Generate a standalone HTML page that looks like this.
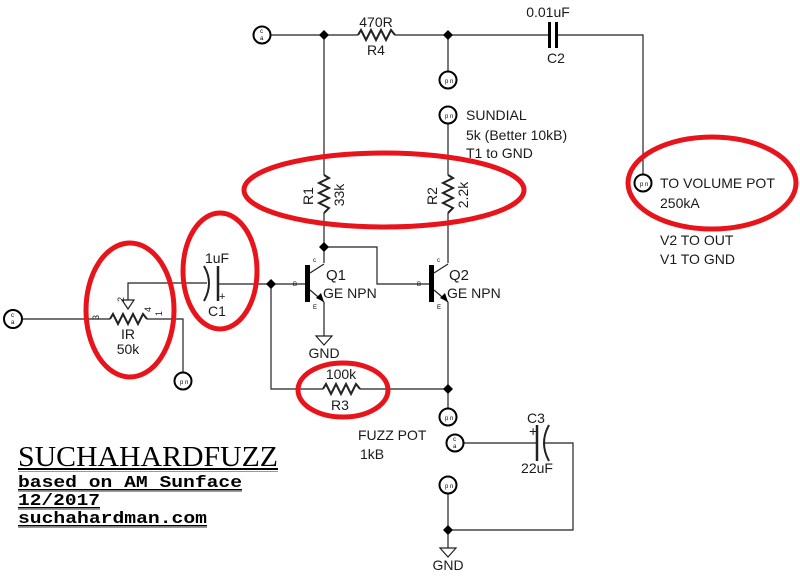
<!DOCTYPE html>
<html><head><meta charset="utf-8"><style>
html,body{margin:0;padding:0;background:#fff;}
svg{display:block;}
text{font-family:"Liberation Sans",sans-serif;font-size:14px;fill:#1a1a1a;}
.m{font-family:"Liberation Mono","DejaVu Sans Mono",monospace;fill:#000;}
.t{font-size:6px;fill:#000;}
</style></head><body>
<svg width="800" height="577" viewBox="0 0 800 577" xmlns="http://www.w3.org/2000/svg">
<g fill="none" stroke="#222" stroke-width="1.2">
<line x1="271" y1="35" x2="358" y2="35"/>
<line x1="395" y1="35" x2="549" y2="35"/>
<polyline points="556,35 643,35 643,174"/>
<polyline stroke-width="2" points="358,35 361,30 366,40 371,30 376,40 381,30 386,40 391,30 395,35"/>
<line x1="448" y1="35" x2="448" y2="71"/>
<line x1="448" y1="124" x2="448" y2="175"/>
<line x1="324" y1="35" x2="324" y2="175"/>
<polyline stroke-width="2" points="324,175 329,178 319,183 329,188 319,193 329,198 319,203 329,208 324,213"/>
<polyline stroke-width="2" points="448,175 453,178 443,183 453,188 443,193 453,198 443,203 453,208 448,213"/>
<line x1="324" y1="213" x2="324" y2="263"/>
<line x1="448" y1="213" x2="448" y2="263"/>
<polyline points="324,247 377,247 377,284 430,284"/>
<line x1="310" y1="273" x2="324" y2="264"/>
<line x1="310" y1="290" x2="324" y2="302"/>
<line x1="324" y1="302" x2="324" y2="336"/>
<line x1="434" y1="273" x2="448" y2="264"/>
<line x1="434" y1="290" x2="448" y2="302"/>
<line x1="448" y1="302" x2="448" y2="408"/>
<line x1="218" y1="284" x2="306" y2="284"/>
<polyline points="271,284 271,389 323,389"/>
<line x1="360" y1="389" x2="448" y2="389"/>
<polyline stroke-width="2" points="323,389 326,384 331,394 336,384 341,394 346,384 351,394 356,384 360,389"/>
<polygon points="316,336 332,336 324,345"/>
<line x1="23" y1="319" x2="110" y2="319"/>
<polyline stroke-width="2" points="110,319 113,314 118,324 123,314 128,324 133,314 138,324 143,314 147,319"/>
<polyline points="147,319 183,319 183,372"/>
<polyline points="128,300 128,283 207,283"/>
<polygon points="122,300 134,300 128,309"/>
<path d="M204,266 Q214,283 204,301" stroke-width="2"/>
<line x1="218" y1="266" x2="218" y2="301" stroke-width="2.5"/>
<line x1="463" y1="443" x2="537" y2="443"/>
<line x1="537" y1="425" x2="537" y2="461" stroke-width="2.5"/>
<path d="M549,425 Q539,443 549,461" stroke-width="2"/>
<polyline points="543,443 573,443 573,530 448,530"/>
<line x1="448" y1="494" x2="448" y2="548"/>
<polygon points="440,548 456,548 448,557"/>
<circle cx="262" cy="35" r="8.5" stroke="#000" stroke-width="2" fill="#fff"/>
<circle cx="13" cy="319" r="9" stroke="#000" stroke-width="2" fill="#fff"/>
<circle cx="455" cy="443" r="8.5" stroke="#000" stroke-width="2" fill="#fff"/>
<circle cx="448" cy="80" r="8.5" stroke="#000" stroke-width="2" fill="#fff"/>
<circle cx="448" cy="115" r="8.5" stroke="#000" stroke-width="2" fill="#fff"/>
<circle cx="643" cy="183" r="8.5" stroke="#000" stroke-width="2" fill="#fff"/>
<circle cx="183" cy="381" r="8.5" stroke="#000" stroke-width="2" fill="#fff"/>
<circle cx="448" cy="417" r="8.5" stroke="#000" stroke-width="2" fill="#fff"/>
<circle cx="448" cy="485" r="8.5" stroke="#000" stroke-width="2" fill="#fff"/>
</g>
<g fill="#000">
<rect x="305" y="265" width="5" height="37"/>
<rect x="429" y="265" width="5" height="37"/>
<polygon points="324,302 316,298 321,293"/>
<polygon points="448,302 440,298 445,293"/>
<rect x="548" y="22" width="3" height="26"/>
<rect x="555" y="22" width="3" height="26"/>
<polygon points="324,30 329,35 324,40 319,35"/>
<polygon points="448,30 453,35 448,40 443,35"/>
<polygon points="324,242 329,247 324,252 319,247"/>
<polygon points="271,279 276,284 271,289 266,284"/>
<polygon points="448,384 453,389 448,394 443,389"/>
<polygon points="448,525 453,530 448,535 443,530"/>
</g>
<g class="t">
<text class="t" x="445" y="83">p n</text>
<text class="t" x="445" y="118">p n</text>
<text class="t" x="640" y="186">p n</text>
<text class="t" x="180" y="384">p n</text>
<text class="t" x="445" y="420">p n</text>
<text class="t" x="445" y="488">p n</text>
<text class="t" x="260" y="33">c</text><text class="t" x="260" y="40">a</text>
<text class="t" x="11" y="317">c</text><text class="t" x="11" y="324">a</text>
<text class="t" x="453" y="441">c</text><text class="t" x="453" y="448">a</text>
<text class="t" x="313" y="262">c</text>
<text class="t" x="293" y="286">B</text>
<text class="t" x="313" y="309">E</text>
<text class="t" x="437" y="262">c</text>
<text class="t" x="417" y="286">B</text>
<text class="t" x="437" y="309">E</text>
</g>
<text style="font-size:9px" transform="translate(99,320) rotate(-90)">3</text>
<text style="font-size:9px" transform="translate(124,302) rotate(-90)">2</text>
<text style="font-size:9px" transform="translate(151,312) rotate(-90)">4</text>
<text style="font-size:9px" transform="translate(162,316) rotate(-90)">1</text>
<text x="376" y="27" text-anchor="middle">470R</text>
<text x="376" y="55" text-anchor="middle">R4</text>
<text x="548" y="17" text-anchor="middle">0.01uF</text>
<text x="556" y="63" text-anchor="middle">C2</text>
<text x="466" y="120">SUNDIAL</text>
<text x="466" y="140">5k (Better 10kB)</text>
<text x="466" y="158">T1 to GND</text>
<text transform="translate(313,196) rotate(-90)" text-anchor="middle">R1</text>
<text transform="translate(344,195) rotate(-90)" text-anchor="middle">33k</text>
<text transform="translate(437,196) rotate(-90)" text-anchor="middle">R2</text>
<text transform="translate(468,195) rotate(-90)" text-anchor="middle">2.2k</text>
<text x="326" y="280" style="font-size:15px">Q1</text>
<text x="323" y="298">GE NPN</text>
<text x="449" y="280" style="font-size:15px">Q2</text>
<text x="447" y="298">GE NPN</text>
<text x="324" y="358" text-anchor="middle">GND</text>
<text x="448" y="570" text-anchor="middle">GND</text>
<text x="341" y="379" text-anchor="middle">100k</text>
<text x="340" y="410" text-anchor="middle">R3</text>
<text x="358" y="440">FUZZ POT</text>
<text x="360" y="459">1kB</text>
<text x="536" y="423" text-anchor="middle">C3</text>
<text x="537" y="473" text-anchor="middle">22uF</text>
<text x="529" y="436">+</text>
<text x="217" y="263" text-anchor="middle">1uF</text>
<text x="217" y="316" text-anchor="middle">C1</text>
<text x="219" y="300" style="font-size:11px">+</text>
<text x="128" y="339" text-anchor="middle">IR</text>
<text x="128" y="354" text-anchor="middle">50k</text>
<text x="660" y="188">TO VOLUME POT</text>
<text x="660" y="208">250kA</text>
<text x="660" y="245">V2 TO OUT</text>
<text x="660" y="264">V1 TO GND</text>
<text x="18" y="466" style="font-family:'Liberation Serif',serif;font-size:29px;fill:#000" textLength="260" lengthAdjust="spacingAndGlyphs">SUCHAHARDFUZZ</text>
<rect x="18" y="468" width="260" height="2" fill="#000"/>
<rect x="18" y="471" width="260" height="1" fill="#999"/>
<text class="m" x="18" y="487" style="font-size:17px;font-weight:bold" textLength="224" lengthAdjust="spacingAndGlyphs">based on AM Sunface</text>
<rect x="18" y="489" width="224" height="1.5" fill="#000"/>
<rect x="18" y="491" width="224" height="1" fill="#999"/>
<text class="m" x="18" y="505" style="font-size:17px;font-weight:bold" textLength="82" lengthAdjust="spacingAndGlyphs">12/2017</text>
<rect x="18" y="507" width="82" height="1.5" fill="#000"/>
<rect x="18" y="509" width="82" height="1" fill="#999"/>
<text class="m" x="18" y="523" style="font-size:17px;font-weight:bold" textLength="189" lengthAdjust="spacingAndGlyphs">suchahardman.com</text>
<rect x="18" y="525" width="189" height="1.5" fill="#000"/>
<rect x="18" y="527" width="189" height="1" fill="#999"/>
<g fill="none" stroke="#e8141c" stroke-width="5">
<ellipse cx="130" cy="310" rx="44" ry="67"/>
<ellipse cx="220" cy="271" rx="37" ry="58"/>
<ellipse cx="384" cy="190" rx="140" ry="37"/>
<ellipse cx="343" cy="390" rx="45" ry="27"/>
<ellipse cx="712" cy="183" rx="84" ry="46"/>
</g>
</svg>
</body></html>
